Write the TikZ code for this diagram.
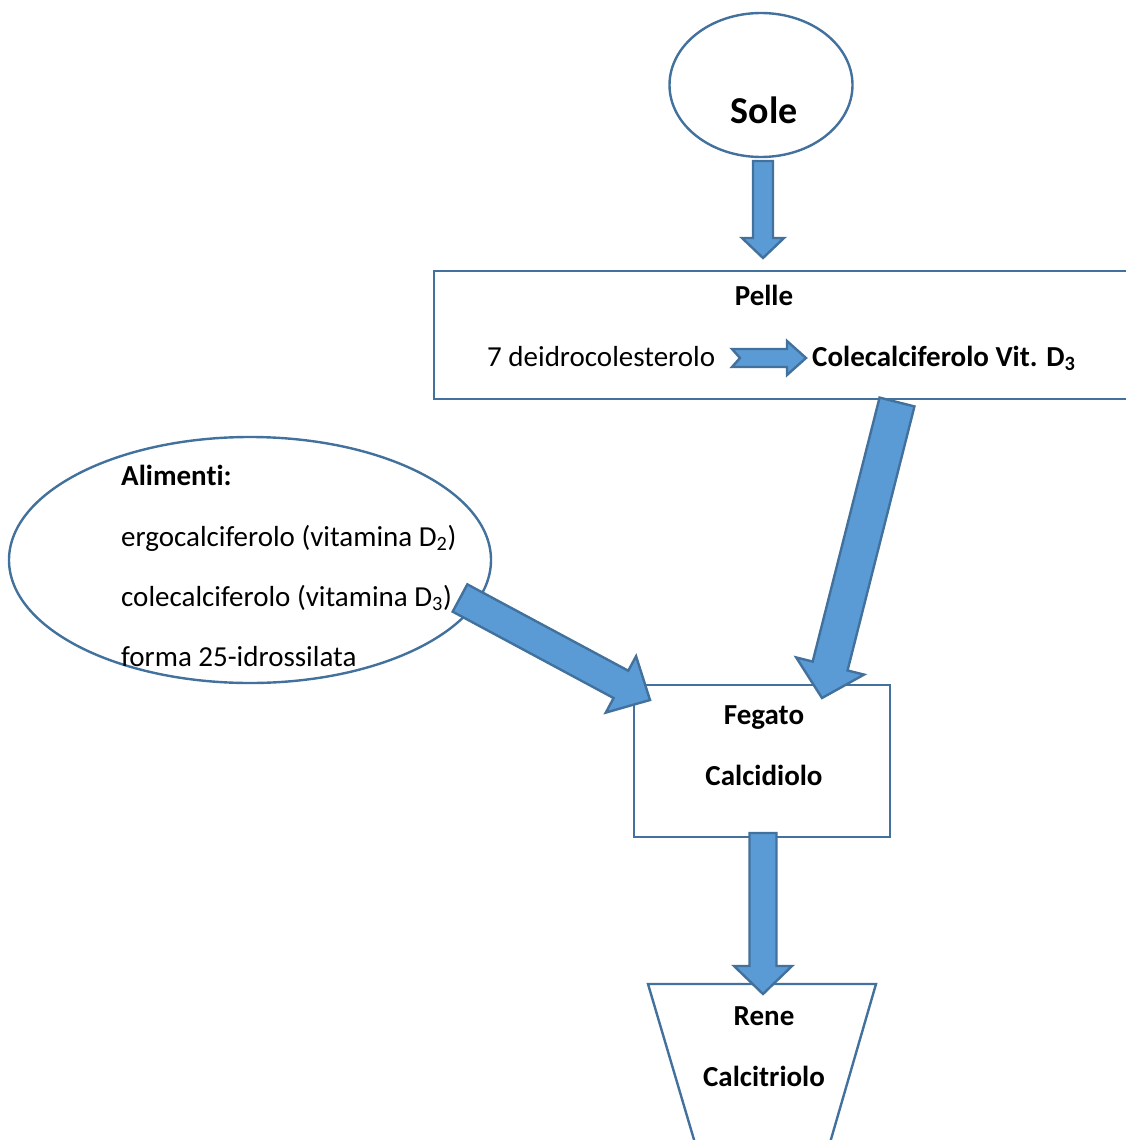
\documentclass[tikz,border=0pt]{standalone}
\usepackage{fontspec}
\setmainfont{Carlito}
\usetikzlibrary{calc,shapes.geometric}

\definecolor{arrowfill}{HTML}{5B9BD5}
\definecolor{edgeblue}{HTML}{41719C}

% Block arrow: #1 tail, #2 tip, #3 half shaft width, #4 half head width,
% #5 head length, #6 depth of the notch at the tail
\newcommand\blockarrow[6]{%
  \coordinate (ba-base) at ($(#2)!#5!(#1)$);
  \coordinate (ba-notch) at ($(#1)!#6!(#2)$);
  \filldraw[blockarr]
    ($(#1)!#3!90:(#2)$) -- ($(ba-base)!#3!90:(#2)$) -- ($(ba-base)!#4!90:(#2)$)
    -- (#2)
    -- ($(ba-base)!#4!-90:(#2)$) -- ($(ba-base)!#3!-90:(#2)$) -- ($(#1)!#3!-90:(#2)$)
    -- (ba-notch) -- cycle;
}

\tikzset{
  shapeline/.style={draw=edgeblue, line width=2.4pt, fill=white},
  blockarr/.style={fill=arrowfill, draw=edgeblue, line width=2.4pt, line join=miter},
  txt/.style={font=\fontsize{29}{35}\selectfont, inner sep=0pt},
  btxt/.style={font=\fontsize{29}{35}\selectfont\bfseries, inner sep=0pt},
}

\begin{document}
\begin{tikzpicture}[x=1pt, y=-1pt]
  \useasboundingbox (0,0) rectangle (1126,1140);
  \clip (0,0) rectangle (1126,1140);

  % shapes
  \node[shapeline, ellipse, minimum width=183pt, minimum height=144pt, inner sep=0pt] (sole) at (761,85) {};
  \node[shapeline, rectangle, minimum width=706pt, minimum height=128pt, inner sep=0pt] (pelle) at (787,335) {};
  \node[shapeline, ellipse, minimum width=482pt, minimum height=246pt, inner sep=0pt] (alimenti) at (250,560) {};
  \node[shapeline, rectangle, minimum width=256pt, minimum height=152pt, inner sep=0pt] (fegato) at (762,761) {};
  \filldraw[shapeline] (648,984) coordinate (rene-tl) -- (876,984) coordinate (rene-tr)
    -- (825,1160) -- (700,1160) -- cycle;

  % connector end points
  \coordinate (a1-t) at (763,161);
  \coordinate (a1-h) at (763,258);
  \coordinate (a2-t) at (732,358);
  \coordinate (a2-h) at (806,358);
  \coordinate (a3-t) at (897,402);
  \coordinate (a3-h) at (822,698);
  \coordinate (a4-t) at (460,598);
  \coordinate (a4-h) at (650,700);
  \coordinate (a5-t) at (763,833);
  \coordinate (a5-h) at (763,994);

  % arrows
  \blockarrow{a1-t}{a1-h}{10pt}{21pt}{20pt}{0pt}
  \blockarrow{a2-t}{a2-h}{9pt}{17pt}{19pt}{8pt}
  \blockarrow{a3-t}{a3-h}{18pt}{35pt}{33pt}{0pt}
  \blockarrow{a4-t}{a4-h}{15.5pt}{32pt}{33pt}{0pt}
  \blockarrow{a5-t}{a5-h}{13.5pt}{29pt}{28pt}{0pt}

  % texts
  \node[font=\fontsize{38}{44}\selectfont\bfseries, inner sep=0pt, anchor=base] (sole-txt) at (764,123) {Sole};
  \node[btxt, anchor=base] (pelle-txt) at (764,305) {Pelle};
  \node[txt, anchor=base west] (src) at (487,366) {7 deidrocolesterolo};
  \node[btxt, anchor=base west] (dst) at (812,366) {Colecalciferolo Vit. D\textsubscript{3}};
  \node[btxt, anchor=base west] (ali-1) at (121,485) {\addfontfeature{RawFeature=-liga}Alimenti:};
  \node[txt, anchor=base west] (ali-2) at (121,546) {ergocalciferolo (vitamina D\textsubscript{2})};
  \node[txt, anchor=base west] (ali-3) at (121,606) {colecalciferolo (vitamina D\textsubscript{3})};
  \node[txt, anchor=base west] (ali-4) at (121,666) {forma 25-idrossilata};
  \node[btxt, anchor=base] (feg-1) at (764,724) {Fegato};
  \node[btxt, anchor=base] (feg-2) at (764,785) {Calcidiolo};
  \node[btxt, anchor=base] (rene-1) at (764,1025) {Rene};
  \node[btxt, anchor=base] (rene-2) at (764,1086) {Calcitriolo};
\end{tikzpicture}
\end{document}
